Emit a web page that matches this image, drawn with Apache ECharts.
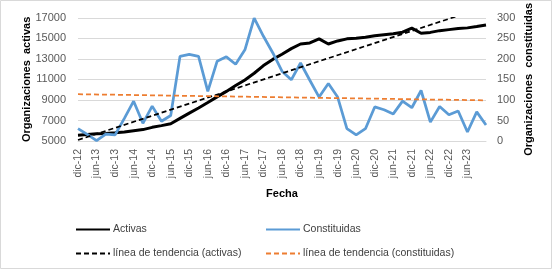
<!DOCTYPE html>
<html>
<head>
<meta charset="utf-8">
<script src="https://cdn.jsdelivr.net/npm/echarts@6/dist/echarts.min.js"></script>
<style>
  html, body { margin: 0; padding: 0; background: #fff; }
  #chart { width: 552px; height: 269px; }
</style>
</head>
<body>
<div id="chart"></div>
<script>
// trimestres, de dic-12 a dic-23
const fechas = [
  "dic-12", "mar-13", "jun-13", "sep-13", "dic-13", "mar-14", "jun-14", "sep-14",
  "dic-14", "mar-15", "jun-15", "sep-15", "dic-15", "mar-16", "jun-16", "sep-16",
  "dic-16", "mar-17", "jun-17", "sep-17", "dic-17", "mar-18", "jun-18", "sep-18",
  "dic-18", "mar-19", "jun-19", "sep-19", "dic-19", "mar-20", "jun-20", "sep-20",
  "dic-20", "mar-21", "jun-21", "sep-21", "dic-21", "mar-22", "jun-22", "sep-22",
  "dic-22", "mar-23", "jun-23", "sep-23", "dic-23"
];

const activas = [
  5570, 5640, 5700, 5740, 5800, 5870, 5990, 6110,
  6330, 6500, 6680, 7200, 7720, 8220, 8750, 9300,
  9830, 10400, 10950, 11600, 12350, 12950, 13450, 14000,
  14450, 14550, 14950, 14450, 14750, 14950, 15000, 15100,
  15250, 15350, 15450, 15600, 16000, 15500, 15580, 15750,
  15850, 15950, 16020, 16150, 16300
];

const constituidas = [
  30, 16, 1, 17, 15, 55, 97, 43,
  85, 48, 62, 206, 211, 206, 121, 194,
  205, 187, 222, 299, 255, 215, 170, 149,
  190, 148, 107, 140, 107, 30, 15, 30,
  83, 76, 66, 97, 81, 123, 46, 84,
  64, 73, 22, 71, 39
];

// líneas de tendencia: extremos
const tendenciaActivas = [["dic-12", 5100], ["dic-23", 18080]];
const tendenciaConstituidas = [["dic-12", 114], ["dic-23", 99]];

const font = "Liberation Sans";
const chart = echarts.init(document.getElementById("chart"));

const legendItem = (name, left, top) => ({
  data: [name],
  left: left,
  top: top,
  itemWidth: 34,
  itemHeight: 12,
  selectedMode: false,
  itemStyle: { opacity: 0 },
  textStyle: { fontFamily: font, fontSize: 10.5, color: "#404040", padding: [0, 0, 0, -2] },
});

chart.setOption({
  animation: false,
  graphic: [
    {
      type: "rect",
      shape: { x: 0.5, y: 0.5, width: 551, height: 268 },
      style: { fill: "none", stroke: "#d9d9d9", lineWidth: 1 },
      silent: true,
    },
  ],
  legend: [
    legendItem("Activas", 70, 219),
    legendItem("Constituidas", 260, 219),
    legendItem("línea de tendencia (activas)", 70, 243),
    legendItem("línea de tendencia (constituidas)", 260, 243),
  ],
  grid: { left: 78, right: 66, top: 14, bottom: 128 },
  xAxis: {
    type: "category",
    data: fechas,
    boundaryGap: false,
    name: "Fecha",
    nameLocation: "middle",
    nameGap: 47,
    nameTextStyle: { fontFamily: font, fontSize: 11, fontWeight: "bold", color: "#000" },
    axisLine: { lineStyle: { color: "#d9d9d9" } },
    axisTick: { show: false },
    axisLabel: {
      rotate: 90,
      margin: 8,
      interval: (idx) => idx % 2 === 0 && idx < 44,
      fontFamily: font,
      fontSize: 10.5,
      color: "#595959",
    },
  },
  yAxis: [
    {
      type: "value",
      min: 5000,
      max: 17000,
      interval: 2000,
      name: "Organizaciones  activas",
      nameLocation: "middle",
      nameGap: 46,
      nameMoveOverlap: false,
      nameTextStyle: { fontFamily: font, fontSize: 11, fontWeight: "bold", color: "#000" },
      axisLine: { show: false },
      axisTick: { show: false },
      axisLabel: {
        margin: 12,
        formatter: (v) => String(v),
        fontFamily: font,
        fontSize: 11,
        color: "#595959",
      },
      splitLine: { lineStyle: { color: "#d9d9d9" } },
    },
    {
      type: "value",
      min: 0,
      max: 300,
      interval: 50,
      name: "Organizaciones  constituidas",
      nameLocation: "middle",
      nameGap: 37,
      nameMoveOverlap: false,
      nameTextStyle: { fontFamily: font, fontSize: 11, fontWeight: "bold", color: "#000" },
      axisLine: { show: false },
      axisTick: { show: false },
      axisLabel: { margin: 11, fontFamily: font, fontSize: 11, color: "#595959" },
      splitLine: { show: false },
    },
  ],
  series: [
    {
      name: "Activas",
      type: "line",
      data: activas,
      symbol: "none",
      lineStyle: { width: 3, color: "#000" },
      itemStyle: { color: "#000" },
    },
    {
      name: "Constituidas",
      type: "line",
      yAxisIndex: 1,
      data: constituidas,
      symbol: "none",
      lineStyle: { width: 2.75, color: "#5b9bd5" },
      itemStyle: { color: "#5b9bd5" },
    },
    {
      name: "línea de tendencia (activas)",
      type: "line",
      data: tendenciaActivas,
      symbol: "none",
      lineStyle: { width: 1.75, color: "#000", type: [5, 3] },
      itemStyle: { color: "#000" },
    },
    {
      name: "línea de tendencia (constituidas)",
      type: "line",
      yAxisIndex: 1,
      data: tendenciaConstituidas,
      symbol: "none",
      lineStyle: { width: 1.75, color: "#ed7d31", type: [5, 3] },
      itemStyle: { color: "#ed7d31" },
    },
  ],
});
</script>
</body>
</html>
